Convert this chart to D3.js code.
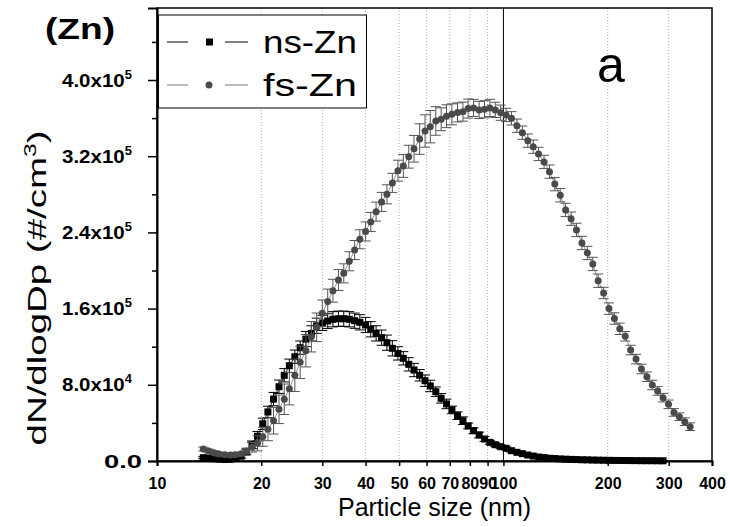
<!DOCTYPE html>
<html>
<head>
<meta charset="utf-8">
<script src="https://cdn.jsdelivr.net/npm/d3@7"></script>
<style>
  body { margin: 0; background: #fff; }
  svg { display: block; font-family: 'Liberation Sans', Arial, sans-serif; }
</style>
</head>
<body>
<script>
// particle diameters (nm), SMPS channels
const diameters = [13.6, 14.1, 14.6, 15.1, 15.7, 16.3, 16.8, 17.5, 18.1, 18.8, 19.5, 20.2, 20.9, 21.7,
  22.5, 23.3, 24.1, 25.0, 25.9, 26.9, 27.9, 28.9, 30.0, 31.1, 32.2, 33.4, 34.6, 35.9, 37.2, 38.5,
  40.0, 41.4, 42.9, 44.5, 46.1, 47.8, 49.6, 51.4, 53.3, 55.2, 57.3, 59.4, 61.5, 63.8, 66.1, 68.5,
  71.0, 73.7, 76.4, 79.1, 82.0, 85.1, 88.2, 91.4, 94.7, 98.2, 101.8, 105.5, 109.4, 113.4, 117.6,
  121.9, 126.3, 131.0, 135.8, 140.7, 145.9, 151.2, 156.8, 162.5, 168.5, 174.7, 181.1, 187.7,
  194.6, 201.7, 209.1, 216.7, 224.7, 232.9, 241.4, 250.3, 259.5, 269.0, 278.8, 289.0, 299.6,
  310.6, 322.0, 333.8, 346.0];

// ns-Zn, dN/dlogDp in 1e3 #/cm3 (ends at 289 nm)
const nsValues = [3.5, 3.0, 2.4, 1.9, 1.6, 1.8, 2.6, 5.0, 9.5, 17, 26, 39, 51.5, 65, 78, 90, 100,
  109.5, 119, 128, 134, 142, 145, 147, 148.8, 149.4, 149.4, 148.8, 147.3, 145.6, 142.8, 138.3,
  134, 129.5, 124.2, 118.3, 113, 107.8, 101.5, 95.5, 90, 84.3, 78.8, 72.8, 65.8, 59.9, 53.6,
  47.6, 42.3, 36.8, 31.8, 27.3, 23.1, 19.6, 17.1, 15, 13.3, 10.8, 9.1, 7.7, 6.3, 5.2, 4.2, 3.6,
  2.9, 2.6, 2.2, 1.9, 1.7, 1.5, 1.3, 1.2, 1.0, 0.9, 0.8, 0.7, 0.6, 0.55, 0.5, 0.45, 0.4, 0.35,
  0.3, 0.3, 0.25, 0.2];
const nsErrors = [1, 1, 1, 1, 1, 1, 1.5, 2, 3, 4, 5, 6, 6, 7, 7, 7, 7, 7, 7, 8, 8, 8, 8, 8, 8, 8,
  8, 8, 8, 8, 8, 8, 8, 8, 8, 8, 7, 7, 7, 7, 6, 6, 6, 5, 5, 5, 4, 4, 4, 3, 3, 3, 2.5, 2, 2, 2,
  1.5, 1.5, 1.2, 1, 1, 0.8, 0.7, 0.6, 0.5, 0.5, 0.4, 0.4, 0.3, 0.3, 0.3, 0.2, 0.2, 0.2, 0.2,
  0.2, 0.1, 0.1, 0.1, 0.1, 0.1, 0.1, 0.1, 0.1, 0.1, 0.1];

// fs-Zn, dN/dlogDp in 1e3 #/cm3
const fsValues = [12.6, 10.5, 8.7, 7.3, 6.6, 6.3, 6.5, 7.5, 10.5, 14.4, 18.6, 25.5, 33.3, 42.3,
  54.3, 64.8, 75.9, 90, 103.6, 115.8, 130.5, 140.4, 155, 167.5, 178.8, 190, 197, 209.7, 221.5,
  232.8, 241, 251, 261.8, 272, 280, 292, 304.8, 309.8, 319.5, 327.8, 338, 346.5, 351, 357, 358.8,
  362, 364, 366, 366.8, 370, 370.7, 368.6, 369.3, 370.7, 368.6, 365.7, 363.3, 359.8, 352, 344.7,
  336.3, 330, 322.4, 314, 303.8, 290.7, 279, 263.6, 254.4, 242.6, 228.9, 218.4, 206.9, 189.3,
  176.4, 160, 149.6, 138.8, 131, 116.5, 107, 96.6, 88.5, 79.8, 73.5, 66.5, 59.5, 51, 46.5, 41.3, 36];
const fsErrors = [2, 2, 2, 2, 2, 2, 2, 2, 3, 5, 8, 10, 12, 14, 15, 16, 17, 17, 17, 17, 16, 15, 14,
  13, 12, 11, 10, 10, 10, 10, 10, 10, 10, 10, 10, 10, 11, 12, 12, 14, 16, 17, 17, 15, 12, 12, 11,
  10, 10, 10, 9, 9, 9, 9, 8, 8, 7, 7, 7, 7, 7, 7, 7, 7, 7, 7, 7, 7, 7, 7, 7, 7, 7, 7, 6, 6, 6, 6,
  5, 5, 5, 5, 5, 5, 4.5, 4.5, 4.5, 4, 4, 4, 4];

const xTicks = [10, 20, 30, 40, 50, 60, 70, 80, 90, 100, 200, 300, 400];
const gridTicks = [20, 30, 40, 50, 60, 70, 80, 90, 200, 300];
const yTicks = [0, 8e4, 1.6e5, 2.4e5, 3.2e5, 4.0e5];
const yMinorTicks = [4e4, 1.2e5, 2.0e5, 2.8e5, 3.6e5, 4.4e5];

const w = 730;
const h = 527;
const margin = { left: 157, top: 8, right: 18, bottom: 66 };

const xScale = d3.scaleLog().domain([10, 400]).range([margin.left, w - margin.right]);
const yScale = d3.scaleLinear().domain([0, 4.756e5]).range([h - margin.bottom, margin.top]);

const svg = d3.select('body')
  .append('svg')
  .attr('width', w)
  .attr('height', h);

const series = [
  { name: 'ns-Zn', values: nsValues, errors: nsErrors, line: '#000', bar: '#000', fill: '#000', shape: 'square' },
  { name: 'fs-Zn', values: fsValues, errors: fsErrors, line: '#777', bar: '#555', fill: '#4a4a4a', shape: 'circle' },
].map((s) => ({
  ...s,
  points: s.values.map((v, i) => ({ d: diameters[i], v: v * 1000, e: s.errors[i] * 1000 })),
}));

//grid lines
svg.append('g')
  .selectAll('line')
  .data(gridTicks)
  .enter()
  .append('line')
  .attr('x1', (d) => xScale(d))
  .attr('x2', (d) => xScale(d))
  .attr('y1', margin.top)
  .attr('y2', h - margin.bottom)
  .attr('stroke', '#aaa')
  .attr('stroke-width', 1)
  .attr('stroke-dasharray', '1,2');

svg.append('line')
  .attr('x1', xScale(100))
  .attr('x2', xScale(100))
  .attr('y1', margin.top)
  .attr('y2', h - margin.bottom)
  .attr('stroke', '#000')
  .attr('stroke-width', 1);

//series: lines, error bars, markers
const line = d3.line()
  .x((p) => xScale(p.d))
  .y((p) => yScale(p.v));

series.forEach((s) => {
  const g = svg.append('g');
  g.append('path')
    .datum(s.points)
    .attr('d', line)
    .attr('fill', 'none')
    .attr('stroke', s.line)
    .attr('stroke-width', 0.8);

  const bars = g.selectAll('g.bar')
    .data(s.points)
    .enter()
    .append('g')
    .attr('stroke', s.bar)
    .attr('stroke-width', 1);
  bars.append('line')
    .attr('x1', (p) => xScale(p.d))
    .attr('x2', (p) => xScale(p.d))
    .attr('y1', (p) => yScale(p.v + p.e))
    .attr('y2', (p) => yScale(Math.max(0, p.v - p.e)));
  bars.append('line')
    .attr('x1', (p) => xScale(p.d) - 5)
    .attr('x2', (p) => xScale(p.d) + 5)
    .attr('y1', (p) => yScale(p.v + p.e))
    .attr('y2', (p) => yScale(p.v + p.e));
  bars.append('line')
    .attr('x1', (p) => xScale(p.d) - 5)
    .attr('x2', (p) => xScale(p.d) + 5)
    .attr('y1', (p) => yScale(Math.max(0, p.v - p.e)))
    .attr('y2', (p) => yScale(Math.max(0, p.v - p.e)));

  if (s.shape === 'square') {
    g.selectAll('rect')
      .data(s.points)
      .enter()
      .append('rect')
      .attr('x', (p) => xScale(p.d) - 3.5)
      .attr('y', (p) => yScale(p.v) - 3.5)
      .attr('width', 7)
      .attr('height', 7)
      .attr('fill', s.fill);
  } else {
    g.selectAll('circle')
      .data(s.points)
      .enter()
      .append('circle')
      .attr('cx', (p) => xScale(p.d))
      .attr('cy', (p) => yScale(p.v))
      .attr('r', 3.5)
      .attr('fill', s.fill);
  }
});

//frame
svg.append('rect')
  .attr('x', margin.left)
  .attr('y', margin.top)
  .attr('width', w - margin.left - margin.right)
  .attr('height', h - margin.top - margin.bottom)
  .attr('fill', 'none')
  .attr('stroke', '#000')
  .attr('stroke-width', 1.5);

//axes
const xAxis = d3.axisBottom(xScale)
  .tickValues(xTicks)
  .tickFormat(d3.format('d'))
  .tickSize(5)
  .tickPadding(12);
const gx = svg.append('g')
  .attr('transform', `translate(0, ${h - margin.bottom})`)
  .call(xAxis);
gx.select('.domain').attr('stroke-width', 2);
gx.selectAll('.tick line').attr('stroke-width', 1.5);
gx.selectAll('.tick text')
  .attr('font-family', "'Liberation Sans Narrow', 'Liberation Sans', Arial, sans-serif")
  .attr('font-weight', 'bold')
  .attr('font-size', 16)
  .attr('fill', '#000');

const yAxis = d3.axisLeft(yScale)
  .tickValues(yTicks)
  .tickSize(9)
  .tickPadding(5)
  .tickFormat(() => '');
const gy = svg.append('g')
  .attr('transform', `translate(${margin.left}, 0)`)
  .call(yAxis);
gy.select('.domain').attr('stroke-width', 2);
gy.selectAll('.tick line').attr('stroke-width', 1.5);

svg.append('g')
  .attr('transform', `translate(${margin.left}, 0)`)
  .call(d3.axisLeft(yScale).tickValues(yMinorTicks).tickSize(5).tickFormat(() => ''))
  .call((g) => g.select('.domain').remove())
  .selectAll('.tick line')
  .attr('stroke-width', 1.5);

//y tick labels as mantissa x 10^exp
gy.selectAll('.tick').each(function (d) {
  const t = d3.select(this).select('text')
    .attr('x', d === 0 ? -15 : -25)
    .attr('font-weight', 'bold')
    .attr('font-size', 19)
    .attr('fill', '#000')
    .attr('lengthAdjust', 'spacingAndGlyphs')
    .text(null);
  if (d === 0) {
    t.attr('textLength', 38).append('tspan').text('0.0');
    return;
  }
  const exp = Math.floor(Math.log10(d));
  const mant = d / Math.pow(10, exp);
  t.attr('textLength', 70);
  t.append('tspan').text(mant.toFixed(1) + 'x10');
  t.append('tspan').attr('font-size', 12).attr('dy', -8).text(exp);
});

//axis titles
svg.append('text')
  .attr('x', (margin.left + w - margin.right) / 2)
  .attr('y', 516)
  .attr('text-anchor', 'middle')
  .attr('font-size', 25)
  .text('Particle size (nm)');

const yTitle = svg.append('text')
  .attr('transform', 'translate(46, 288) rotate(-90)')
  .attr('text-anchor', 'middle')
  .attr('font-size', 25)
  .attr('textLength', 315)
  .attr('lengthAdjust', 'spacingAndGlyphs');
yTitle.append('tspan').text('dN/dlogDp (#/cm');
yTitle.append('tspan').attr('font-size', 16).attr('dy', -10).text('3');
yTitle.append('tspan').attr('dy', 10).text(')');

//panel labels
svg.append('text')
  .attr('x', 45)
  .attr('y', 39)
  .attr('font-weight', 'bold')
  .attr('font-size', 30)
  .attr('textLength', 70)
  .attr('lengthAdjust', 'spacingAndGlyphs')
  .text('(Zn)');

svg.append('text')
  .attr('x', 597)
  .attr('y', 82)
  .attr('font-size', 50)
  .text('a');

//legend
const legend = svg.append('g');
legend.append('rect')
  .attr('x', 158.5)
  .attr('y', 15)
  .attr('width', 208)
  .attr('height', 93)
  .attr('fill', '#fff')
  .attr('stroke', '#000')
  .attr('stroke-width', 1);

const legRows = legend.selectAll('g.row')
  .data(series)
  .enter()
  .append('g')
  .attr('transform', (s, i) => `translate(0, ${42 + i * 43})`);
legRows.append('line')
  .attr('x1', 167).attr('x2', 188).attr('y1', 0).attr('y2', 0)
  .attr('stroke', (s) => s.line);
legRows.append('line')
  .attr('x1', 225).attr('x2', 248).attr('y1', 0).attr('y2', 0)
  .attr('stroke', (s) => s.line);
legRows.filter((s) => s.shape === 'square')
  .append('rect')
  .attr('x', 206).attr('y', -3.5).attr('width', 7).attr('height', 7)
  .attr('fill', (s) => s.fill);
legRows.filter((s) => s.shape === 'circle')
  .append('circle')
  .attr('cx', 209).attr('cy', 0).attr('r', 3.5)
  .attr('fill', (s) => s.fill);
legRows.append('text')
  .attr('x', 263)
  .attr('y', 11)
  .attr('font-size', 31)
  .attr('textLength', 94)
  .attr('lengthAdjust', 'spacingAndGlyphs')
  .text((s) => s.name);
</script>
</body>
</html>
